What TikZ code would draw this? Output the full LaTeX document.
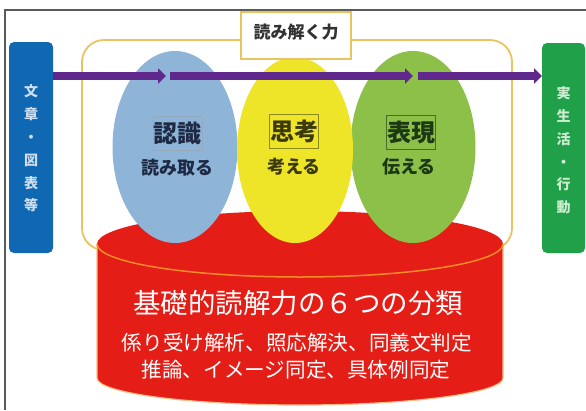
\documentclass[tikz,border=0pt]{standalone}
\usepackage{fontspec}
\setmainfont{Noto Sans CJK JP}
\usetikzlibrary{arrows.meta,shapes.geometric}
\definecolor{framegray}{RGB}{90,90,90}
\definecolor{bluebox}{RGB}{16,104,178}
\definecolor{greenbox}{RGB}{32,160,72}
\definecolor{flowpurple}{RGB}{96,40,140}
\definecolor{eblue}{RGB}{142,180,216}
\definecolor{eyellow}{RGB}{238,228,40}
\definecolor{egreen}{RGB}{140,192,72}
\definecolor{cred}{RGB}{228,30,22}
\definecolor{rim}{RGB}{245,140,40}
\definecolor{yframe}{RGB}{232,196,96}
\definecolor{vlight}{RGB}{205,222,240}
\definecolor{glight}{RGB}{205,236,210}
\definecolor{kblue}{RGB}{30,42,68}
\definecolor{kyellow}{RGB}{60,58,10}
\definecolor{kgreen}{RGB}{28,56,20}
\definecolor{bblue}{RGB}{150,170,190}
\definecolor{byellow}{RGB}{140,136,30}
\definecolor{bgreen}{RGB}{70,110,40}
\definecolor{titletext}{RGB}{50,50,50}
\tikzset{
  sidebox/.style={draw=none, rounded corners=5pt, inner sep=0pt},
  vtext/.style={align=center, inner sep=0pt, font=\fontsize{14}{22.8}\selectfont\bfseries},
  egg/.style={ellipse, draw=none, inner sep=0pt},
  flow/.style={flowpurple, line width=8pt, -{Triangle[width=15pt,length=8pt]}},
  keybox/.style={line width=0.8pt, inner sep=0pt, minimum width=49pt, minimum height=34pt, font=\fontsize{24}{24}\selectfont\bfseries},
  subtext/.style={inner sep=0pt, font=\fontsize{18}{18}\selectfont\bfseries},
  redtext/.style={white, inner sep=0pt},
}
\begin{document}
\begin{tikzpicture}[x=1pt,y=-1pt]
\useasboundingbox (0,0) rectangle (586,410);
% frame
\draw[framegray, line width=1.5pt] (5,410) -- (5,10) -- (586,10);
% yellow rounded frame
\draw[yframe, line width=1.8pt, rounded corners=22pt] (82,40) rectangle (512,250);
% red cylinder
\path[fill=cred] (97,244) -- (97,378)
  arc[start angle=180,end angle=0,x radius=203,y radius=27] -- (503,244)
  arc[start angle=0,end angle=-180,x radius=203,y radius=33] -- cycle;
\draw[rim!55, line width=1.2pt] (97,244) -- (97,378)
  arc[start angle=180,end angle=0,x radius=203,y radius=27] -- (503,244);
\draw[rim, line width=1.5pt] (97,244) arc[start angle=180,end angle=0,x radius=203,y radius=33];
% eggs
\node[egg, fill=eblue, minimum width=125pt, minimum height=192pt] (e1) at (175,147) {};
\node[egg, fill=egreen, minimum width=125pt, minimum height=192pt] (e3) at (413,147) {};
\node[egg, fill=eyellow, minimum width=116pt, minimum height=186pt] (e2) at (295,150) {};
% side boxes
\node[sidebox, fill=bluebox, minimum width=44pt, minimum height=211pt] (src) at (31,147.5) {};
\node[sidebox, fill=greenbox, minimum width=43pt, minimum height=210pt] (dst) at (563.5,148) {};
\node[vtext, text=vlight] (srct) at (31,148.5) {文\\章\\・\\図\\表\\等};
\node[vtext, text=glight] (dstt) at (563.5,150.5) {実\\生\\活\\・\\行\\動};
% flow arrows
\coordinate (p0) at (53,76);
\coordinate (p1) at (166,76);
\coordinate (p2) at (170,76);
\coordinate (p3) at (413,76);
\coordinate (p4) at (418,76);
\coordinate (p5) at (542,76);
\draw[flow] (p0) -- (p1);
\draw[flow] (p2) -- (p3);
\draw[flow] (p4) -- (p5);
% title box
\node[draw=yframe, fill=white, line width=1.8pt, minimum width=110pt, minimum height=47pt, inner sep=0pt] (tbox) at (296,35.5) {};
\node[inner sep=0pt, text=titletext, font=\fontsize{17}{17}\selectfont\bfseries] (title) at (296,32) {読み解く力};
% key words
\node[keybox, draw=bblue, text=kblue] (k1) at (177.5,133) {認識};
\node[keybox, draw=byellow, text=kyellow] (k2) at (294,131.5) {思考};
\node[keybox, draw=bgreen, text=kgreen] (k3) at (411,132.5) {表現};
\node[subtext, text=kblue] (s1) at (177,168) {読み取る};
\node[subtext, text=kyellow] (s2) at (294,167) {考える};
\node[subtext, text=kgreen] (s3) at (409,167) {伝える};
% red texts
\node[redtext, font=\fontsize{27.5}{27.5}\selectfont] (m1) at (298,303) {基礎的読解力の６つの分類};
\node[redtext, font=\fontsize{20.6}{20.6}\selectfont] (m2) at (297,343) {係り受け解析、照応解決、同義文判定};
\node[redtext, font=\fontsize{20.6}{20.6}\selectfont] (m3) at (296,370) {推論、イメージ同定、具体例同定};
\end{tikzpicture}
\end{document}
